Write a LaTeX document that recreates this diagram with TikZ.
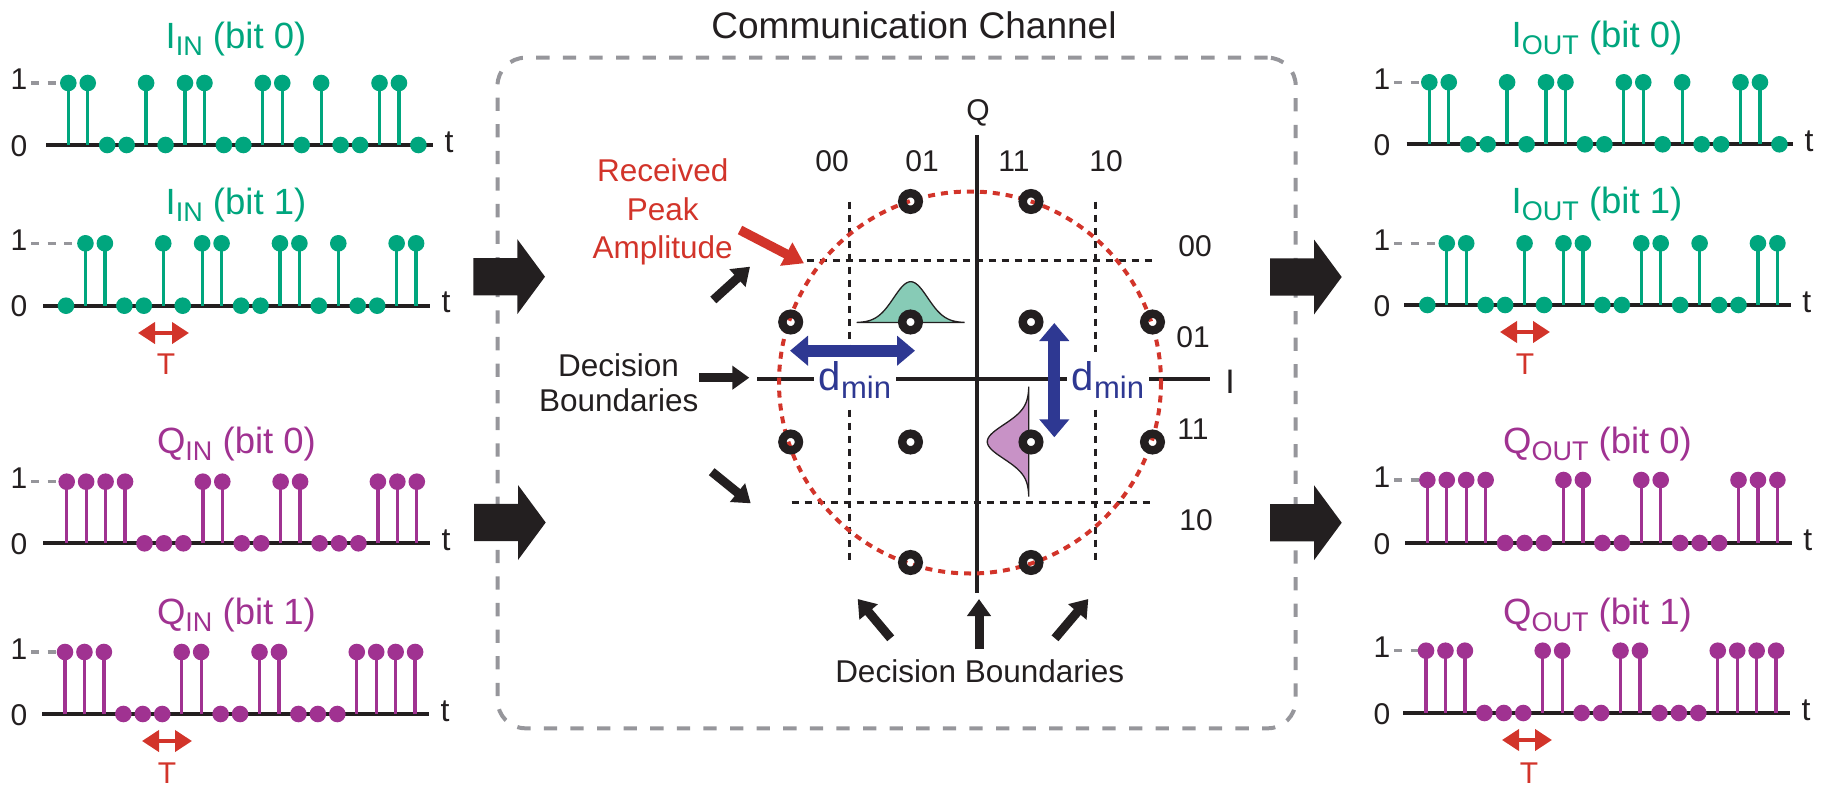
\documentclass[tikz,border=0pt]{standalone}
\usepackage{fontspec}
\setmainfont{Liberation Sans}
\usetikzlibrary{arrows.meta}

\definecolor{ink}{RGB}{35,31,32}
\definecolor{tealc}{RGB}{0,166,126}
\definecolor{purpc}{RGB}{160,50,145}
\definecolor{redc}{RGB}{210,52,42}
\definecolor{bluec}{RGB}{46,56,146}
\definecolor{grayc}{RGB}{150,150,155}
\definecolor{tealfill}{RGB}{135,203,182}
\definecolor{pinkfill}{RGB}{200,146,198}

\newcommand\fs[1]{\fontsize{#1}{#1}\selectfont}
\newcommand\lowsub[1]{\raisebox{-7pt}{\fs{27}#1}}

% bit sequences of the four streams
\def\bitsIa{1,1,0,0,1,0,1,1,0,0,1,1,0,1,0,0,1,1,0}
\def\bitsIb{0,1,1,0,0,1,0,1,1,0,0,1,1,0,1,0,0,1,1}
\def\bitsQa{1,1,1,1,0,0,0,1,1,0,0,1,1,0,0,0,1,1,1}
\def\bitsQb{1,1,1,0,0,0,1,1,0,0,1,1,0,0,0,1,1,1,1}

\tikzset{
  axisline/.style={ink, line width=4pt},
  stem/.style={line width=3.3pt},
  onedash/.style={draw=grayc, line width=3.5pt, dash pattern=on 8pt off 8.5pt},
  tick/.style={font=\fs{30}, anchor=base},
  tvar/.style={font=\fs{32}, anchor=base},
  title/.style={font=\fs{36.5}, anchor=base},
  tarrow/.style={redc, line width=4pt, {Triangle[length=17pt,width=21pt]}-{Triangle[length=17pt,width=21pt]}},
  tlabel/.style={text=redc, font=\fs{30}, anchor=base},
  boxline/.style={draw=grayc, line width=4pt, dash pattern=on 13.3pt off 13.3pt, rounded corners=28pt},
  decline/.style={ink, line width=3.5pt, dash pattern=on 7pt off 6pt},
  iqaxis/.style={ink, line width=4pt},
  peakcircle/.style={redc, line width=4pt, dash pattern=on 7pt off 6pt},
  ring/.style={circle, draw=ink, line width=8.4pt, minimum size=16.6pt, inner sep=0pt},
  dminarrow/.style={bluec, line width=12pt, {Triangle[length=18pt,width=29pt]}-{Triangle[length=18pt,width=29pt]}},
  dminlabel/.style={fill=white, inner xsep=5pt, inner ysep=9pt, anchor=base, text=bluec},
  pointer/.style={ink, line width=9pt, -{Triangle[length=17pt,width=23pt]}},
  redpointer/.style={redc, line width=9.5pt, -{Triangle[length=20pt,width=25pt]}},
  lbl/.style={font=\fs{30}, anchor=base},
  note/.style={font=\fs{31.5}, anchor=base},
  bigarrow/.pic={\fill[ink] (0,-18.7) -- (44,-18.7) -- (44,-37.5) -- (71.7,0)
                 -- (44,37.5) -- (44,18.7) -- (0,18.7) -- cycle;},
}

\begin{document}
\begin{tikzpicture}[x=1pt, y=-1pt,
  every node/.style={inner sep=0pt, outer sep=0pt, text=ink}]
\useasboundingbox (0,0) rectangle (1822,789);

% ---------------- stem plots of the input and output streams ----------------
\foreach \nm/\axl/\axr/\yb/\yt/\xo/\col/\lx/\fx/\bits in {
   iin0/46/433/145/83/68.3/tealc/19/68.3/\bitsIa,
   iin1/43/430/305.7/243.3/66/tealc/19/85.45/\bitsIb,
   qin0/43/430/543.3/481.7/66.7/purpc/19/66.7/\bitsQa,
   qin1/42/429/714/652/65/purpc/19/65/\bitsQb,
   iout0/1406.7/1793/144.3/82.3/1429.3/tealc/1382/1429.3/\bitsIa,
   iout1/1404/1790.7/305/243.3/1427.3/tealc/1382/1446.75/\bitsIb,
   qout0/1405/1791.7/543/480/1427.3/purpc/1382/1427.3/\bitsQa,
   qout1/1403/1790/713/650.7/1426/purpc/1382/1426/\bitsQb} {
  \edef\rowbits{\bits}
  \draw[axisline] (\axl,\yb) -- (\axr,\yb);
  \node[tick] (\nm-one) at (\lx,\yt+7) {1};
  \node[tick] (\nm-zero) at (\lx,\yb+11) {0};
  \node[tvar] (\nm-t) at (\axr+16,\yb+7) {t};
  \draw[onedash] (\lx+12,\yt) -- (\fx,\yt);
  \foreach \b [count=\k from 0] in \rowbits {
    \pgfmathsetmacro\xx{\xo+\k*19.45}
    \ifnum\b=1\relax
      \draw[stem,\col] (\xx,\yb) -- (\xx,\yt);
      \fill[\col] (\xx,\yt) circle[radius=8.3];
    \else
      \fill[\col] (\xx,\yb) circle[radius=8.3];
    \fi
  }
}

% titles of the streams
\node[title, text=tealc] (tiin0) at (236,48.5) {I\lowsub{IN} (bit 0)};
\node[title, text=tealc] (tiin1) at (236,214) {I\lowsub{IN} (bit 1)};
\node[title, text=purpc] (tqin0) at (236.5,453.5) {Q\lowsub{IN} (bit 0)};
\node[title, text=purpc] (tqin1) at (236.5,624.5) {Q\lowsub{IN} (bit 1)};
\node[title, text=tealc] (tiout0) at (1597,48) {I\lowsub{OUT} (bit 0)};
\node[title, text=tealc] (tiout1) at (1597,213.5) {I\lowsub{OUT} (bit 1)};
\node[title, text=purpc] (tqout0) at (1597.5,453.5) {Q\lowsub{OUT} (bit 0)};
\node[title, text=purpc] (tqout1) at (1597.5,624.5) {Q\lowsub{OUT} (bit 1)};

% symbol period markers
\coordinate (tia) at (138,333);   \coordinate (tib) at (189,333);
\coordinate (tqa) at (142,741);   \coordinate (tqb) at (192,741);
\coordinate (toia) at (1500,332); \coordinate (toib) at (1550,332);
\coordinate (toqa) at (1502,740); \coordinate (toqb) at (1552,740);
\draw[tarrow] (tia) -- (tib);
\draw[tarrow] (tqa) -- (tqb);
\draw[tarrow] (toia) -- (toib);
\draw[tarrow] (toqa) -- (toqb);
\node[tlabel] (tI) at (166,374.5) {T};
\node[tlabel] (tQ) at (167,783) {T};
\node[tlabel] (tIo) at (1525,374.5) {T};
\node[tlabel] (tQo) at (1529,783.5) {T};

% ---------------- channel box ----------------
\node[boxline, minimum width=798.2pt, minimum height=670.6pt] (chan) at (896.6,393) {};
\node[font=\fs{37}, anchor=base] (chantitle) at (914,38.5) {Communication Channel};

\pic (inA) at (473.3,276.7) {bigarrow};
\pic (inB) at (474,522.5) {bigarrow};
\pic (outA) at (1270,277) {bigarrow};
\pic (outB) at (1270,522.7) {bigarrow};

% ---------------- constellation ----------------
\coordinate (bv1t) at (849.3,201.7);  \coordinate (bv1b) at (849.3,561.7);
\coordinate (bv2t) at (1095.7,201.7); \coordinate (bv2b) at (1095.7,561.7);
\coordinate (bh1l) at (806.7,260.7);  \coordinate (bh1r) at (1151.7,260.7);
\coordinate (bh2l) at (791.7,502.7);  \coordinate (bh2r) at (1151.7,502.7);
\draw[decline] (bv1t) -- (bv1b);
\draw[decline] (bv2t) -- (bv2b);
\draw[decline] (bh1l) -- (bh1r);
\draw[decline] (bh2l) -- (bh2r);

\coordinate (qtop) at (976.7,135);  \coordinate (qbot) at (976.7,593);
\coordinate (ileft) at (757,379);   \coordinate (iright) at (1210,379);
\draw[iqaxis] (qtop) -- (qbot);
\draw[iqaxis] (ileft) -- (iright);
\node[lbl] (qlab) at (978,121) {Q};
\node[font=\fs{34}, anchor=base] (ilab) at (1230,393) {I};

\node[dminlabel] (dminl) at (855,390) {\fs{40}d\raisebox{-8pt}{\fs{31}min}};
\node[dminlabel] (dminr) at (1108,390) {\fs{40}d\raisebox{-8pt}{\fs{31}min}};

\draw[peakcircle] (970,382.5) circle[radius=191];

% noise spread around two received symbols
\filldraw[fill=tealfill, draw=ink, line width=1.3pt]
  plot[domain=-54:54, samples=70] ({910.7+\x},{322.7-41*exp(-((\x)*(\x))/578)}) -- cycle;
\filldraw[fill=pinkfill, draw=ink, line width=1.3pt]
  plot[domain=-55:55, samples=70] ({1029-41.7*exp(-((\x)*(\x))/578)},{441.7+\x}) -- cycle;

% constellation points
\node[ring] (s01t) at (910.5,201.5) {};
\node[ring] (s11t) at (1031,201.5) {};
\node[ring] (s00l) at (790.7,322) {};
\node[ring, fill=white] (s0a) at (910.5,322) {};
\node[ring, fill=white] (s0b) at (1031,322) {};
\node[ring] (s01r) at (1152.5,322) {};
\node[ring] (s11l) at (790.7,442) {};
\node[ring, fill=white] (s1a) at (910.5,442) {};
\node[ring, fill=white] (s1b) at (1031,442) {};
\node[ring] (s11r) at (1152.5,442) {};
\node[ring] (s01b) at (910.5,562.5) {};
\node[ring] (s11b) at (1031,562.5) {};

% minimum distance arrows
\coordinate (dhl) at (790,350.7);  \coordinate (dhr) at (915,350.7);
\coordinate (dvt) at (1054.3,323); \coordinate (dvb) at (1054.3,437.3);
\draw[dminarrow] (dhl) -- (dhr);
\draw[dminarrow] (dvt) -- (dvb);

% symbol labels
\node[lbl] (c00) at (832,171.7) {00};
\node[lbl] (c01) at (922,171.7) {01};
\node[lbl] (c11) at (1014,171.7) {11};
\node[lbl] (c10) at (1106,171.7) {10};
\node[lbl] (r00) at (1195,256) {00};
\node[lbl] (r01) at (1193,347.7) {01};
\node[lbl] (r11) at (1193,439.3) {11};
\node[lbl] (r10) at (1196,530) {10};

% annotations
\node[note] (dbl1) at (618.5,376.7) {Decision};
\node[note] (dbl2) at (618.8,411.7) {Boundaries};
\node[note] (dbb) at (979.7,682.7) {Decision Boundaries};
\node[note, text=redc] (rp1) at (662.8,181.7) {Received};
\node[note, text=redc] (rp2) at (662.7,220) {Peak};
\node[note, text=redc] (rp3) at (662.7,258.3) {Amplitude};

\coordinate (p1s) at (713.3,300);   \coordinate (p1e) at (750,266.7);
\coordinate (p2s) at (699,377.7);   \coordinate (p2e) at (749.3,377.7);
\coordinate (p3s) at (711.7,471.7); \coordinate (p3e) at (750.7,503.3);
\coordinate (p4s) at (890.7,638.3); \coordinate (p4e) at (857.7,599);
\coordinate (p5s) at (979,649.3);   \coordinate (p5e) at (979,599);
\coordinate (p6s) at (1055,638.3);  \coordinate (p6e) at (1088.3,599);
\coordinate (rps) at (740,230);     \coordinate (rpe) at (804,263.3);
\draw[pointer] (p1s) -- (p1e);
\draw[pointer] (p2s) -- (p2e);
\draw[pointer] (p3s) -- (p3e);
\draw[pointer] (p4s) -- (p4e);
\draw[pointer] (p5s) -- (p5e);
\draw[pointer] (p6s) -- (p6e);
\draw[redpointer] (rps) -- (rpe);
\end{tikzpicture}
\end{document}
